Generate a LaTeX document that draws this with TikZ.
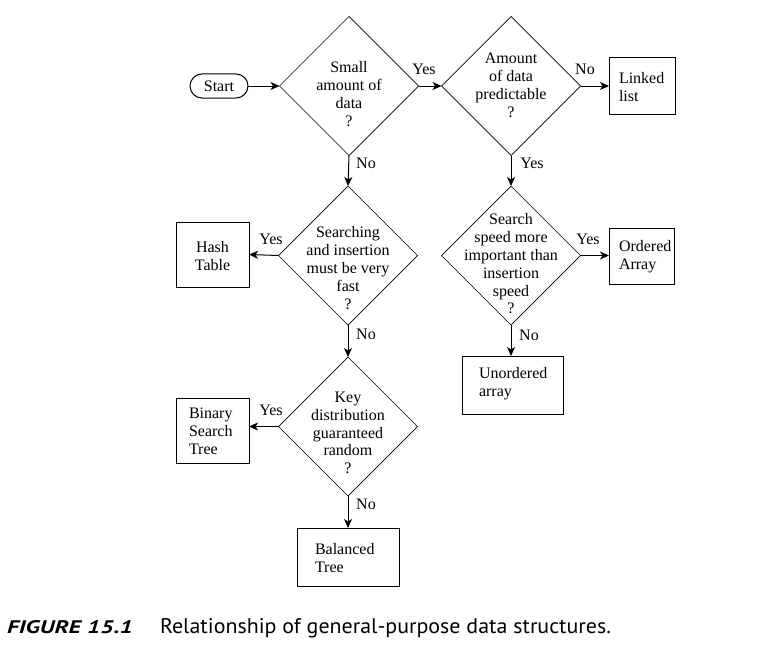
\documentclass[tikz,border=0pt]{standalone}
\usepackage{fontspec}
\usepackage{graphicx}
\setmainfont{Liberation Serif}
\newfontfamily\capfont{PT Sans}
\usetikzlibrary{shapes.geometric,arrows.meta}
\begin{document}
\begin{tikzpicture}[x=1pt,y=-1pt,
  every node/.style={inner sep=0pt, outer sep=0pt, font=\fontsize{16}{18}\selectfont},
  dia/.style={draw, diamond, minimum width=139pt, minimum height=139pt, line width=0.7pt},
  boxnode/.style={draw, rectangle, line width=1pt},
  dtext/.style={align=center, font=\fontsize{16}{17.8}\selectfont},
  ltext/.style={align=left, anchor=west},
  ctext/.style={align=center},
  lab/.style={},
  arr/.style={line width=1pt, -{Stealth[length=9pt,width=8pt,inset=2.5pt]}}
]
\useasboundingbox (0,0) rectangle (771,661);

% start
\node[draw, rounded corners=12pt, line width=1pt, minimum width=58pt, minimum height=24pt] (start) at (219,86) {Start};

% diamonds
\node[dia] (d1) at (349,86) {};
\node[dtext] (d1t) at (349,94) {Small\\amount of\\data\\?};
\node[dia] (d2) at (511,86) {};
\node[dtext] (d2t) at (511,85.5) {Amount\\of data\\predictable\\?};
\node[dia] (d3) at (348,255.5) {};
\node[dtext] (d3t) at (348,268) {Searching\\and insertion\\must be very\\fast\\?};
\node[dia] (d4) at (511,255.5) {};
\node[dtext] (d4t) at (511,264) {Search\\speed more\\important than\\insertion\\speed\\?};
\node[dia] (d5) at (348,426.5) {};
\node[dtext] (d5t) at (348,433) {Key\\distribution\\guaranteed\\random\\?};

% boxes
\node[boxnode, minimum width=66pt, minimum height=56pt] (linked) at (642,86) {};
\node[ltext] (linkedt) at (619,87) {Linked\\list};
\node[boxnode, minimum width=65pt, minimum height=56pt] (ordered) at (641.5,256) {};
\node[ltext] (orderedt) at (619,257) {Ordered\\Array};
\node[boxnode, minimum width=101pt, minimum height=58pt] (unord) at (512.5,385) {};
\node[ltext] (unordt) at (479,384) {Unordered\\array};
\node[boxnode, minimum width=73pt, minimum height=65pt] (hash) at (212.5,254.5) {};
\node[ctext] (hasht) at (212.5,256.5) {Hash\\Table};
\node[boxnode, minimum width=73pt, minimum height=65pt] (bst) at (212.5,430.5) {};
\node[ltext] (bstt) at (189,431) {Binary\\Search\\Tree};
\node[boxnode, minimum width=102pt, minimum height=58pt] (bal) at (348,557) {};
\node[ltext] (balt) at (315,558) {Balanced\\Tree};

% connectors
\draw[arr] (start) -- (d1.west);
\draw[arr] (d1.east) -- (d2.west);
\draw[arr] (d2.east) -- (linked.west);
\draw[arr] (d1.south) -- (d3.north);
\draw[arr] (d2.south) -- (d4.north);
\draw[arr] (d3.west) -- (hash.east);
\draw[arr] (d4.east) -- (ordered.west |- d4.east);
\draw[arr] (d4.south) -- (d4.south |- unord.north);
\draw[arr] (d3.south) -- (d5.north);
\draw[arr] (d5.west) -- (bst.east |- d5.west);
\draw[arr] (d5.south) -- (bal.north);

% labels
\node[lab] (l1) at (424,69) {Yes};
\node[lab] (l2) at (366,163) {No};
\node[lab] (l3) at (585,69) {No};
\node[lab] (l4) at (532,163) {Yes};
\node[lab] (l5) at (271,239) {Yes};
\node[lab] (l6) at (366,334) {No};
\node[lab] (l7) at (588,239) {Yes};
\node[lab] (l8) at (529,335) {No};
\node[lab] (l9) at (271,410) {Yes};
\node[lab] (l10) at (366,504) {No};

% caption
\node[anchor=base west] (cap1) at (7,633) {\resizebox{126pt}{13pt}{\capfont\bfseries\itshape FIGURE 15.1}};
\node[anchor=base west] (cap2) at (160,633) {\resizebox{451pt}{15pt}{\capfont Relationship of general-purpose data structures.}};
\end{tikzpicture}
\end{document}
